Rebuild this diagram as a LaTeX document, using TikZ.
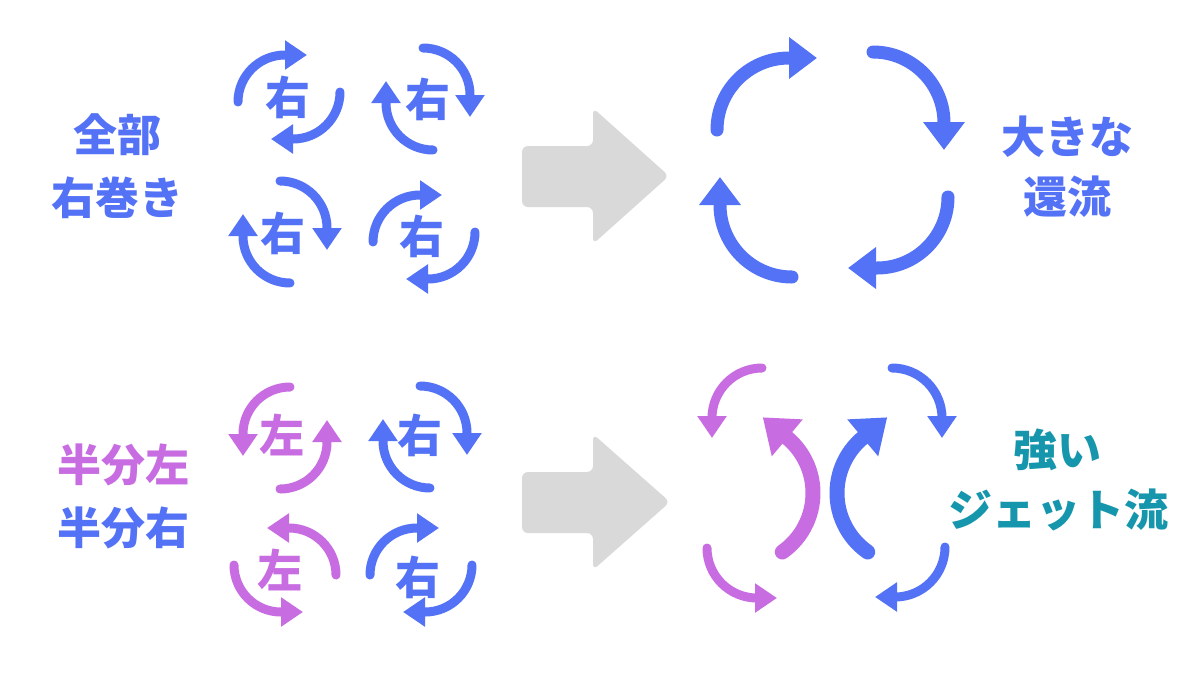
\documentclass[tikz,border=0pt]{standalone}
\usepackage{fontspec}
\newfontfamily\jp{Noto Sans CJK JP}
\usetikzlibrary{arrows.meta}
\definecolor{vblue}{RGB}{84,114,245}
\definecolor{vpurple}{RGB}{200,108,226}
\definecolor{vteal}{RGB}{22,150,172}
\definecolor{vgrey}{RGB}{217,217,217}
\tikzset{
  swirl/.pic={
    \draw[sarr] (-51,-5) arc[start angle=180,end angle=90,radius=47] -- ++(22,0);
    \draw[sarr] (51,5) arc[start angle=0,end angle=-90,radius=47] -- ++(-22,0);
  }
}
\begin{document}
\begin{tikzpicture}[x=1pt,y=1pt,
    sarr/.style={line width=9pt, line cap=round, -{Triangle[length=22pt,width=28pt]}},
    barr/.style={line width=13pt, line cap=round, -{Triangle[length=28pt,width=40pt]}},
    jarr/.style={line width=15pt, line cap=round, -{Triangle[length=32pt,width=46pt]}},
    lbl/.style={font=\jp\bfseries\fontsize{44}{52}\selectfont},
    slbl/.style={font=\jp\bfseries\fontsize{45}{52}\selectfont}]

  \fill[white] (0,0) rectangle (1200,-675);
  \useasboundingbox (0,0) rectangle (1200,-675);

  % left labels
  \node[lbl, vblue] (1) at (117,-135) {全部};
  \node[lbl, vblue] (2) at (117,-198) {右巻き};
  \node[lbl, vpurple] (3) at (123,-465) {半分左};
  \node[lbl, vblue] (4) at (123,-528) {半分右};

  % small swirls
  \begin{scope}[every node/.style={slbl}]
    \pic[color=vblue] at (289,-97) {swirl};
    \pic[color=vblue, rotate=-90] at (428,-99) {swirl};
    \pic[color=vblue, rotate=-90] at (285,-232) {swirl};
    \pic[color=vblue] at (424,-237) {swirl};
    \node[vblue] (5) at (288,-97) {右};
    \node[vblue] (6) at (428,-99) {右};
    \node[vblue] (7) at (283,-233) {右};
    \node[vblue] (8) at (422,-236) {右};

    \pic[color=vpurple, xscale=-1, rotate=-90] at (285,-438) {swirl};
    \pic[color=vblue, rotate=-90] at (425,-437) {swirl};
    \pic[color=vpurple, xscale=-1] at (285,-570) {swirl};
    \pic[color=vblue] at (421,-570) {swirl};
    \node[vpurple] (9) at (282,-435) {左};
    \node[vblue] (10) at (420,-435) {右};
    \node[vpurple] (11) at (280,-570) {左};
    \node[vblue] (12) at (418,-577) {右};
  \end{scope}

  % grey arrows
  \fill[vgrey, rounded corners=6] (522,-146) -- (593,-146) -- (593,-108) -- (669,-176)
    -- (593,-244) -- (593,-207) -- (522,-207) -- cycle;
  \fill[vgrey, rounded corners=6] (522,-472) -- (593,-472) -- (593,-434) -- (670,-502)
    -- (593,-570) -- (593,-533) -- (522,-533) -- cycle;

  % big circulation
  \begin{scope}[vblue]
    \draw[barr] (717,-130) arc[start angle=180,end angle=90,radius=72] -- ++(28,0);
    \draw[barr] (873,-52) arc[start angle=90,end angle=0,radius=71] -- ++(0,-27);
    \draw[barr] (948,-197) arc[start angle=0,end angle=-90,radius=71] -- ++(-29,0);
    \draw[barr] (792,-277) arc[start angle=270,end angle=180,radius=72] -- ++(0,28);
  \end{scope}
  \node[lbl, vblue] (13) at (1067,-137) {大きな};
  \node[lbl, vblue] (14) at (1067,-197) {還流};

  % jet
  \draw[sarr, vpurple] (762,-368) arc[start angle=90,end angle=180,radius=50] -- ++(0,-20);
  \draw[sarr, vpurple] (707,-548) arc[start angle=180,end angle=270,radius=50] -- ++(20,0);
  \draw[sarr, vblue] (892,-368) arc[start angle=90,end angle=0,radius=50] -- ++(0,-20);
  \draw[sarr, vblue] (945,-547) arc[start angle=0,end angle=-90,radius=50] -- ++(-20,0);
  \draw[jarr, vpurple] (782.3,-552) arc[start angle=-55,end angle=50,radius=72] -- ++(140:32);
  \draw[jarr, vblue] (867.7,-552) arc[start angle=235,end angle=130,radius=72] -- ++(40:32);
  \node[lbl, vteal] (15) at (1057,-450) {強い};
  \node[lbl, vteal] (16) at (1058,-510) {ジェット流};

\end{tikzpicture}
\end{document}
